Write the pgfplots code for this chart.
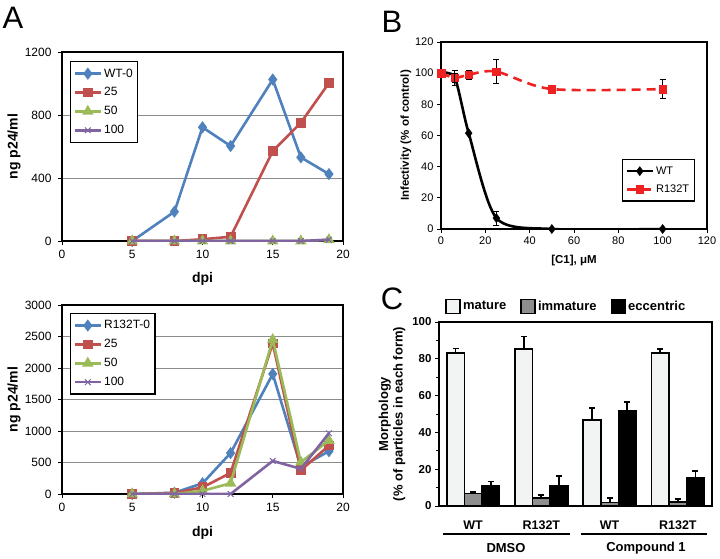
\documentclass[border=0pt]{standalone}
\usepackage{fontspec}
\setmainfont{Liberation Sans}
\setsansfont{Liberation Sans}
\usepackage{pgfplots}
\pgfplotsset{compat=1.18}

\definecolor{xblue}{HTML}{4F81BD}
\definecolor{xred}{HTML}{C0504D}
\definecolor{xgreen}{HTML}{9BBB59}
\definecolor{xpurple}{HTML}{8064A2}
\definecolor{bred}{HTML}{EE2222}
\definecolor{gridgray}{HTML}{8C8C8C}
\definecolor{mature}{HTML}{F2F3F3}
\definecolor{immature}{HTML}{8E8E8E}

\pgfplotsset{
  linelegend/.style={legend image code/.code={%
    \draw[mark repeat=2, mark phase=2, ##1] plot coordinates {(0pt,0pt) (13pt,0pt) (26pt,0pt)};}},
  sqlegend/.style={legend image code/.code={%
    \draw[##1, line width=1.6pt] (0pt,-7pt) rectangle (14pt,7pt);}},
  panelA/.style={
    scale only axis, width=281pt, height=189pt,
    xmin=0, xmax=20, xtick={0,5,...,20}, ymin=0,
    tick pos=left, tick align=outside, major tick length=4pt,
    tick style={black, line width=0.8pt},
    ymajorgrids, grid style={gridgray, line width=1pt},
    axis line style={line width=1.3pt},
    clip mode=individual,
    ticklabel style={font=\fontsize{12}{14}\selectfont},
    yticklabel style={xshift=-3pt}, xticklabel style={yshift=-2pt},
    /pgf/number format/assume math mode=true,
    /pgf/number format/1000 sep={},
    xlabel={dpi}, ylabel={ng p24/ml},
    label style={font=\fontsize{14}{16}\selectfont\bfseries},
    xlabel style={at={(axis description cs:0.5,-0.2)}, anchor=center},
    ylabel style={at={(axis description cs:-0.171,0.5)}, anchor=center},
    legend style={anchor=north west, draw=black, line width=1.3pt,
      font=\fontsize{12}{14}\selectfont, row sep=5pt, inner xsep=3pt, inner ysep=5pt},
    legend cell align=left,
    every axis plot/.append style={line width=2.6pt, linelegend,
      mark options={solid, line width=1pt}},
  },
}

\begin{document}
\begin{tikzpicture}[x=1pt,y=1pt]
\useasboundingbox (0pt,0pt) rectangle (720pt,558pt);

% ---- A, top: WT
\begin{axis}[panelA, at={(62pt,317pt)}, anchor=south west,
  ymax=1200, ytick={0,400,800,1200},
  legend style={at={(0.028,0.952)}}]
\addplot[xblue, mark=diamond*, mark size=4pt, mark options={fill=xblue}] coordinates
  {(5,0) (8,186) (10,722) (12,603) (15,1025) (17,531) (19,425)};
\addplot[xred, mark=square*, mark size=3.6pt, mark options={fill=xred}] coordinates
  {(5,0) (8,0) (10,11) (12,27) (15,571) (17,751) (19,1003)};
\addplot[xgreen, mark=triangle*, mark size=4pt, mark options={fill=xgreen}] coordinates
  {(5,0) (8,0) (10,0) (12,0) (15,0) (17,0) (19,8)};
\addplot[xpurple, mark=x, mark size=4pt] coordinates
  {(5,0) (8,0) (10,0) (12,0) (15,0) (17,0) (19,8)};
\legend{WT-0,25,50,100}
\end{axis}

% ---- A, bottom: R132T
\begin{axis}[panelA, at={(62pt,64pt)}, anchor=south west,
  ymax=3000, ytick={0,500,...,3000},
  xlabel style={at={(axis description cs:0.5,-0.206)}},
  legend style={at={(0.028,0.958)}}]
\addplot[xblue, mark=diamond*, mark size=4pt, mark options={fill=xblue}] coordinates
  {(5,0) (8,20) (10,170) (12,650) (15,1905) (17,430) (19,680)};
\addplot[xred, mark=square*, mark size=3.6pt, mark options={fill=xred}] coordinates
  {(5,0) (8,15) (10,105) (12,335) (15,2390) (17,375) (19,770)};
\addplot[xgreen, mark=triangle*, mark size=4pt, mark options={fill=xgreen}] coordinates
  {(5,0) (8,0) (10,50) (12,170) (15,2450) (17,505) (19,850)};
\addplot[xpurple, mark=x, mark size=4pt] coordinates
  {(5,0) (8,0) (10,0) (12,0) (15,525) (17,400) (19,965)};
\legend{R132T-0,25,50,100}
\end{axis}

% ---- B: dose response
\begin{axis}[scale only axis, width=266pt, height=187pt,
  at={(441pt,329pt)}, anchor=south west,
  xmin=0, xmax=120, ymin=0, ymax=120,
  xtick={0,20,...,120}, ytick={0,20,...,120},
  tick pos=left, tick align=outside, major tick length=4pt,
  tick style={black, line width=0.8pt},
  axis line style={line width=1.3pt},
  clip mode=individual,
  ticklabel style={font=\fontsize{11}{13}\selectfont},
  /pgf/number format/assume math mode=true,
  xlabel={[C1], μM}, ylabel={Infectivity (\% of control)},
  label style={font=\fontsize{11.5}{13}\selectfont\bfseries},
  xlabel style={at={(axis description cs:0.5,-0.166)}, anchor=center},
  ylabel style={at={(axis description cs:-0.132,0.5)}, anchor=center},
  legend style={at={(0.68,0.374)}, anchor=north west, draw=black, line width=1.2pt,
    font=\fontsize{11}{13}\selectfont, row sep=5pt, inner xsep=3pt, inner ysep=5pt},
  legend cell align=left,
  error bars/error bar style={black, solid, line width=1pt},
  error bars/error mark options={black, solid, line width=1pt, mark size=3pt, rotate=90}]
\addplot[black, line width=2.6pt, smooth, tension=0.45, mark=diamond*, mark size=4.5pt,
  mark options={solid, fill=black, line width=0.5pt}, linelegend] coordinates
  {(0,100) (6.25,97) (12.5,61.5) (25,7) (50,0) (100,0)};
\addplot[bred, line width=2.6pt, smooth, dash pattern=on 9pt off 6pt, mark=square*, mark size=3.8pt,
  mark options={solid, fill=bred, line width=0.5pt}, linelegend,
  error bars/.cd, y dir=both, y explicit] coordinates
  {(0,100) +- (0,1) (6.25,97) +- (0,3) (12.5,99) +- (0,3) (25,101) +- (0,7.5) (50,89.8) +- (0,1) (100,89.8) +- (0,6)};
\addplot[forget plot, draw=none, mark=none,
  error bars/.cd, y dir=both, y explicit] coordinates
  {(6.25,97) +- (0,5) (25,7) +- (0,4.5)};
\legend{WT,R132T}
\end{axis}

% ---- C: morphology
\begin{axis}[scale only axis, width=273pt, height=184pt,
  at={(439pt,52pt)}, anchor=south west,
  ybar=0pt, bar width=17.6pt,
  xmin=0.5, xmax=4.5, ymin=0, ymax=100,
  xtick={1,2,3,4}, xticklabels={WT,R132T,WT,R132T},
  x tick style={draw=none}, xticklabel style={yshift=-7pt},
  ytick={0,20,...,100}, minor y tick num=1,
  ytick pos=left, tick align=outside, major tick length=4pt, minor tick length=3pt,
  y tick style={black, line width=0.9pt},
  axis line style={line width=2pt},
  clip=false,
  ticklabel style={font=\fontsize{11.5}{13}\selectfont\bfseries},
  xticklabel style={font=\fontsize{12.5}{14}\selectfont\bfseries},
  /pgf/number format/assume math mode=true,
  ylabel={Morphology\\(\% of particles in each form)},
  ylabel style={align=center, font=\fontsize{13}{14.5}\selectfont\bfseries,
    at={(axis description cs:-0.172,0.5)}, anchor=center},
  legend style={at={(axis description cs:0.012,1.03)}, anchor=south west, draw=none, fill=none,
    legend columns=3, font=\fontsize{13}{15}\selectfont\bfseries,
    /tikz/every even column/.append style={column sep=12pt}},
  error bars/error bar style={black, line width=1.8pt},
  error bars/error mark options={black, line width=1.8pt, mark size=3pt, rotate=90}]
\addplot[fill=mature, draw=black, line width=1.6pt, sqlegend,
  error bars/.cd, y dir=plus, y explicit] coordinates
  {(1,83.2) +- (0,2.4) (2,85.4) +- (0,6.7) (3,46.8) +- (0,6.5) (4,83.2) +- (0,2.2)};
\addplot[fill=immature, draw=black, line width=1.6pt, sqlegend,
  error bars/.cd, y dir=plus, y explicit] coordinates
  {(1,6.9) +- (0,0.8) (2,4.5) +- (0,1.3) (3,1.8) +- (0,2.4) (4,2.3) +- (0,1.3)};
\addplot[fill=black, draw=black, line width=1.6pt, sqlegend,
  error bars/.cd, y dir=plus, y explicit] coordinates
  {(1,10.9) +- (0,2.4) (2,10.9) +- (0,5.2) (3,51.9) +- (0,4.5) (4,15.4) +- (0,3.6)};
\legend{mature,immature,eccentric}
\end{axis}

% group underlines and names of panel C
\draw[line width=1.5pt] (443pt,24pt) -- (570pt,24pt);
\draw[line width=1.5pt] (581pt,24pt) -- (707pt,24pt);
\node[font=\fontsize{13}{15}\selectfont\bfseries] at (506pt,10pt) {DMSO};
\node[font=\fontsize{13}{15}\selectfont\bfseries] at (646pt,10pt) {Compound 1};

% panel letters
\node[font=\fontsize{31}{33}\selectfont] at (13pt,540pt) {A};
\node[font=\fontsize{31}{33}\selectfont] at (392pt,536pt) {B};
\node[font=\fontsize{31}{33}\selectfont] at (392pt,259pt) {C};
\end{tikzpicture}
\end{document}
